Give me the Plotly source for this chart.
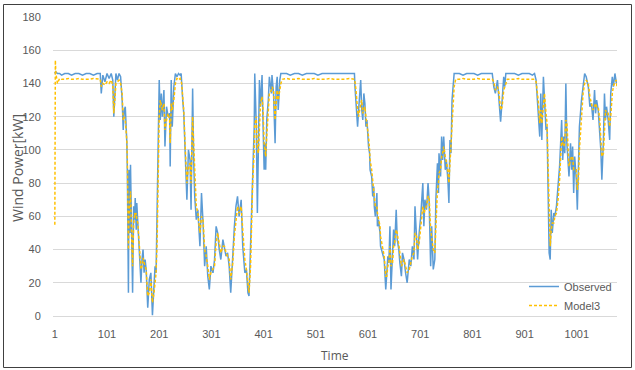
import plotly.graph_objects as go

# Time index (category number) of each reading
time_idx = [
    1, 2, 3, 6, 10, 14, 20, 27, 33, 40, 47, 54, 61, 68, 75, 82, 88,
    90, 93, 97, 101, 105, 109, 112, 114, 116, 118, 121, 124, 127, 130, 132, 134, 136,
    139, 140, 141, 142, 143, 145, 146, 148, 150, 152, 154, 155, 157, 158, 160, 163, 166, 168, 170, 172, 174, 176, 179, 182, 185, 188, 191, 193, 195, 197, 199,
    201, 203, 205, 207, 210, 212, 215, 218, 221, 222, 224, 226, 229, 232, 235, 238, 241, 243,
    244, 246, 248, 251, 254, 257, 260, 262, 264, 265, 267, 269, 272, 275, 279, 282, 285, 288, 291, 294, 297, 300,
    304, 307, 310, 313, 316, 319, 323, 326, 329, 332, 335, 338, 342, 345, 348, 351, 354, 356, 358, 361, 365, 368, 371, 373, 376, 378, 380,
    383, 384, 387, 389, 391, 393, 395, 398, 400, 402, 403, 405, 407, 410, 412, 416, 417, 420, 423, 425, 427, 429, 432, 434,
    437, 445, 452, 460, 468, 475, 483, 490, 498, 505, 513, 520, 528, 535, 543, 550, 558, 565, 572, 575,
    576, 578, 581, 583, 587, 589, 591, 593, 595, 597, 599, 602, 604, 605, 608, 610, 612, 613, 615, 618, 619, 621, 624, 625, 628, 632,
    635, 637, 639, 641, 643, 645, 648, 650, 652, 655, 657, 660, 662, 665, 667, 670, 673, 676, 680, 683, 686, 689,
    691, 694, 696, 699, 702, 706, 708, 710, 713, 716, 718, 721, 723, 726, 729,
    731, 734, 736, 737, 740, 742, 744, 746, 749, 751, 754, 756, 758, 760, 762, 764, 766,
    769, 776, 783, 790, 797, 804, 811, 818, 825, 832, 839,
    842, 845, 849, 852, 855, 858, 861, 863, 865,
    868, 875, 882, 889, 896, 903, 910, 916, 920,
    923, 927, 930, 932, 934, 937, 939, 942, 944, 946, 948, 950, 952, 954, 957, 959, 962, 965, 968, 970, 972, 974, 976, 978, 980, 982, 984, 986, 989, 991, 993, 995, 997, 1000, 1002, 1004,
    1006, 1010, 1013, 1016, 1019, 1023, 1026, 1029, 1032, 1035, 1037, 1039, 1042, 1045, 1047, 1049, 1052, 1054, 1056, 1058, 1061, 1064, 1066, 1069, 1071, 1074, 1077, 1078,
]

observed = [
    147, 146, 147, 146, 146, 145, 146, 146, 145, 146, 146, 145, 146, 146, 145, 146, 146,
    134, 145, 141, 146, 143, 146, 142, 120, 138, 146, 142, 146, 144, 130, 112, 124, 126,
    104, 86, 36, 14, 88, 50, 91, 40, 14, 66, 58, 71, 52, 68, 54, 36, 20, 34, 40, 26, 34, 28, 5, 22, 26, 0.5, 20, 30, 26, 60, 94,
    142, 118, 134, 120, 136, 102, 126, 120, 122, 90, 142, 114, 138, 146, 144, 146, 145, 146,
    138, 130, 122, 88, 70, 100, 94, 64, 110, 137, 94, 72, 58, 64, 42, 74, 56, 30, 42, 24, 16, 30,
    26, 34, 54, 50, 40, 34, 46, 40, 36, 38, 30, 14, 42, 54, 66, 72, 60, 66, 70, 42, 26, 28, 14, 12, 42, 70, 90,
    114, 146, 114, 62, 104, 142, 126, 145, 114, 88, 104, 88, 118, 130, 144, 134, 145, 134, 104, 138, 144, 124, 142, 146,
    146, 146, 145, 146, 146, 145, 146, 146, 146, 145, 146, 146, 146, 146, 146, 146, 146, 146, 146, 146,
    138, 130, 114, 124, 142, 124, 118, 134, 128, 114, 118, 102, 98, 88, 84, 72, 78, 66, 60, 74, 54, 58, 50, 42, 38, 34,
    16, 26, 36, 32, 54, 16, 38, 52, 42, 64, 46, 40, 32, 24, 38, 34, 26, 20, 34, 30, 42, 34,
    66, 42, 34, 50, 60, 80, 54, 70, 64, 80, 70, 30, 54, 28, 34,
    70, 92, 74, 98, 84, 108, 94, 108, 88, 94, 82, 68, 106, 98, 130, 138, 146,
    146, 146, 145, 146, 146, 146, 145, 146, 146, 146, 146,
    138, 134, 142, 130, 117, 130, 144, 138, 146,
    146, 146, 146, 145, 146, 146, 146, 145, 146,
    142, 124, 108, 134, 106, 144, 134, 112, 114, 64, 38, 34, 64, 50, 62, 60, 66, 78, 90, 104, 118, 94, 108, 98, 140, 104, 90, 84, 104, 88, 102, 74, 96, 82, 64, 94,
    114, 130, 140, 146, 144, 138, 126, 128, 118, 136, 122, 130, 124, 110, 100, 82, 106, 134, 118, 126, 118, 106, 134, 144, 138, 146, 140, 142,
]

model3 = [
    55, 154, 146, 140, 143, 142.5, 142.5, 143, 142.5, 142.5, 143, 142.5, 142.5, 142.5, 143, 142.5, 142.5,
    138, 140, 139, 141, 140, 142, 139, 122, 130, 140, 141, 142, 140, 134, 118, 120, 118,
    105, 92, 60, 40, 60, 70, 75, 50, 30, 55, 62, 60, 62, 58, 56, 42, 28, 30, 35, 32, 30, 28, 12, 14, 22, 8, 14, 22, 26, 45, 80,
    120, 130, 126, 124, 128, 112, 118, 122, 118, 104, 128, 124, 130, 140, 143, 142, 143, 141,
    140, 132, 124, 100, 80, 90, 92, 80, 100, 120, 104, 84, 66, 62, 50, 60, 58, 40, 36, 30, 22, 26,
    28, 30, 44, 50, 44, 38, 42, 42, 38, 36, 34, 22, 32, 48, 58, 66, 62, 64, 66, 52, 34, 28, 20, 14, 30, 56, 80,
    100, 115, 120, 100, 98, 120, 128, 132, 124, 104, 100, 96, 108, 122, 134, 136, 138, 136, 118, 128, 136, 130, 136, 140,
    142.5, 143, 142.5, 142.5, 143, 142.5, 142.5, 142.5, 143, 142.5, 142.5, 142.5, 143, 142.5, 142.5, 142.5, 142.5, 143, 142.5, 142.5,
    141, 136, 124, 120, 128, 130, 122, 124, 126, 120, 116, 108, 100, 94, 88, 80, 76, 72, 66, 66, 62, 58, 54, 48, 42, 36,
    24, 24, 30, 32, 42, 30, 32, 42, 44, 52, 50, 44, 38, 30, 32, 34, 30, 26, 28, 32, 36, 38,
    50, 48, 40, 44, 54, 66, 62, 64, 66, 72, 72, 52, 48, 40, 38,
    54, 76, 80, 86, 88, 96, 98, 102, 96, 92, 88, 80, 92, 100, 114, 128, 138,
    142.5, 142.5, 143, 142.5, 142.5, 142.5, 143, 142.5, 142.5, 142.5, 142.5,
    141, 136, 138, 134, 124, 126, 136, 138, 141,
    142.5, 142.5, 142.5, 143, 142.5, 142.5, 142.5, 142.5, 142.5,
    141, 130, 116, 124, 116, 128, 134, 122, 116, 90, 56, 42, 52, 56, 56, 60, 62, 70, 82, 94, 108, 104, 102, 104, 118, 116, 100, 90, 94, 96, 96, 88, 88, 88, 76, 80,
    100, 120, 134, 140, 142, 140, 132, 128, 124, 126, 128, 126, 126, 118, 108, 96, 98, 116, 124, 122, 122, 114, 120, 134, 138, 141, 142, 137,
]

x_tick_vals = [1, 101, 201, 301, 401, 501, 601, 701, 801, 901, 1001]
x_tick_text = ["1", "101", "201", "301", "401", "501", "601", "701", "801", "901", "1001"]
y_tick_vals = [0, 20, 40, 60, 80, 100, 120, 140, 160, 180]
x_title = "Time"
y_title = "Wind Power[kW]"

if not (len(time_idx) == len(observed) == len(model3)):
    raise ValueError(f"length mismatch {len(time_idx)} {len(observed)} {len(model3)}")

FONT = "Liberation Sans, Arial, sans-serif"
TITLE_FONT = "Open Sans, Liberation Sans, sans-serif"
GREY = "#595959"

# plot area in pixels: left 53, right 617, top 17, bottom 316
L, R, T, B = 53, 617, 17, 316
W, H = 635, 370
PW, PH = R - L, B - T


def px_x(px):
    return (px - L) / PW


def px_y(py):
    return (B - py) / PH


fig = go.Figure()
fig.add_trace(go.Scatter(
    x=time_idx, y=observed, mode="lines", name="Observed",
    line=dict(color="#5b9bd5", width=1.5),
))
fig.add_trace(go.Scatter(
    x=time_idx, y=model3, mode="lines", name="Model3",
    line=dict(color="#ffc000", width=1.5, dash="3px,2px"),
))

fig.update_layout(
    width=W, height=H,
    margin=dict(l=L, r=W - R, t=T, b=H - B, autoexpand=False),
    paper_bgcolor="white", plot_bgcolor="white",
    font=dict(family=FONT, size=11, color=GREY),
    showlegend=True,
    legend=dict(
        x=px_x(524), y=px_y(272), xanchor="left", yanchor="top",
        bgcolor="rgba(0,0,0,0)", font=dict(family=FONT, size=11, color=GREY),
        tracegroupgap=0, itemwidth=30,
    ),
    xaxis=dict(
        range=[-2.5, 1078], tickmode="array", tickvals=x_tick_vals, ticktext=x_tick_text,
        showgrid=False, zeroline=False, showline=False, automargin=False,
        ticks="outside", ticklen=8, tickcolor="rgba(0,0,0,0)",
        tickfont=dict(family=FONT, size=11, color=GREY),
    ),
    yaxis=dict(
        range=[0, 180], tickmode="array", tickvals=y_tick_vals,
        showgrid=True, gridcolor="#d9d9d9", gridwidth=1, automargin=False,
        zeroline=True, zerolinecolor="#d9d9d9", zerolinewidth=1, showline=False,
        ticks="outside", ticklen=9, tickcolor="rgba(0,0,0,0)",
        tickfont=dict(family=FONT, size=11, color=GREY),
    ),
    annotations=[
        dict(text=y_title, textangle=-90, xref="paper", yref="paper",
             x=px_x(17), y=px_y(168), xanchor="center", yanchor="middle", showarrow=False,
             font=dict(family=TITLE_FONT, size=14, color=GREY)),
        dict(text=x_title, xref="paper", yref="paper",
             x=px_x(335), y=px_y(355), xanchor="center", yanchor="middle", showarrow=False,
             font=dict(family=TITLE_FONT, size=12, color=GREY)),
    ],
    shapes=[dict(
        type="rect", xref="paper", yref="paper",
        x0=px_x(3.5), x1=px_x(631.5), y0=px_y(367.5), y1=px_y(4.5),
        line=dict(color="#404040", width=1), fillcolor="rgba(0,0,0,0)", layer="above",
    )],
)

fig.write_html(
    "out.html",
    config=dict(displayModeBar=False),
    post_script="document.body.style.margin='0';document.body.style.padding='0';",
)
